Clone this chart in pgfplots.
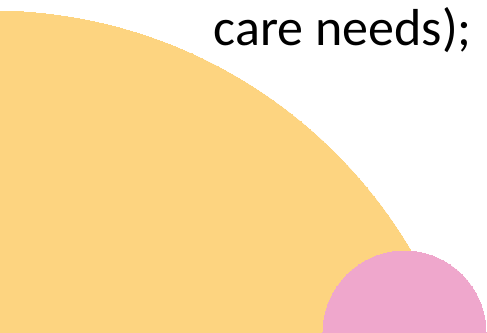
\documentclass[border=0pt]{standalone}
\usepackage{pgfplots}
\pgfplotsset{compat=1.18}
\usepackage{fontspec}
\setmainfont{Carlito}
\definecolor{cyellow}{RGB}{253,212,128}
\definecolor{cpink}{RGB}{239,167,204}
\begin{document}
\begin{tikzpicture}
\useasboundingbox (0,0) rectangle (487pt,332pt);
\clip (0,0) rectangle (487pt,332pt);
\begin{axis}[
  anchor=south west, at={(-10pt,-170pt)},
  width=497pt, height=502pt, scale only axis,
  xmin=-10, xmax=487, ymin=-170, ymax=332,
  axis lines=none, ticks=none,
  clip=false,
]
% yellow bubble: centre x, centre y, radius (in px)
\addplot[only marks, mark=*, color=cyellow, mark size=486, mark options={draw=cyellow, fill=cyellow, line width=0pt}] coordinates {(-8,-165)};
% pink bubble
\addplot[only marks, mark=*, color=cpink, mark size=81.5, mark options={draw=cpink, fill=cpink, line width=0pt}] coordinates {(404.5,-0.5)};
\node[anchor=base east, inner sep=0pt, font=\fontsize{52}{62}\selectfont] at (axis cs:472,287) {care needs);};
\end{axis}
\end{tikzpicture}
\end{document}
